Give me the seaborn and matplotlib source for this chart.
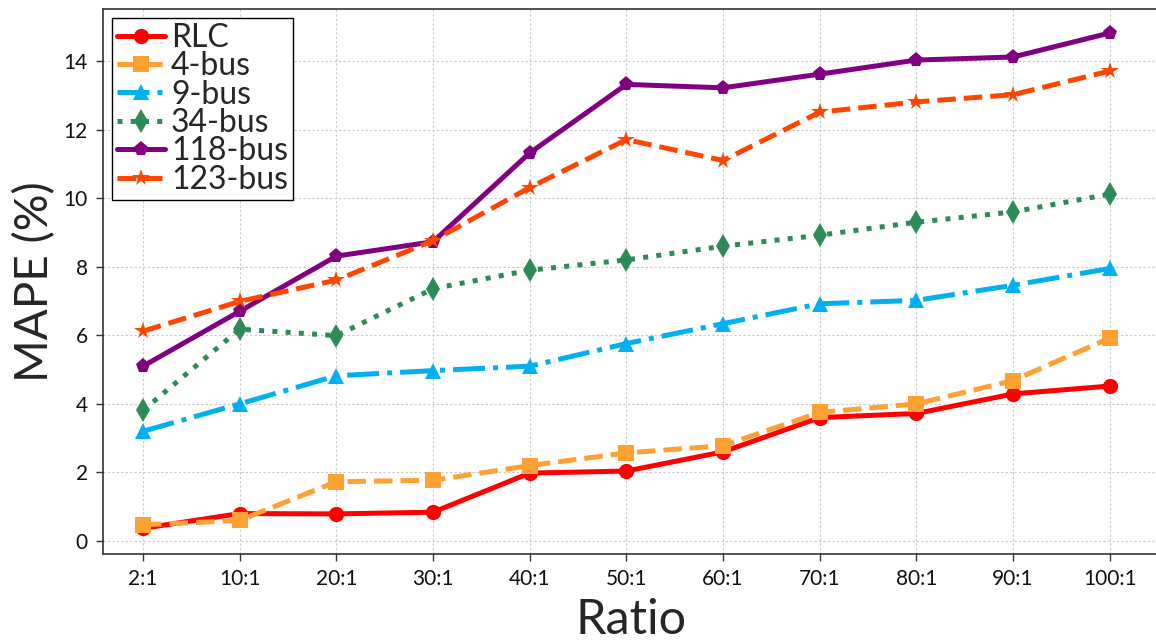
import numpy as np
import pandas as pd
import matplotlib
matplotlib.use("Agg")
import matplotlib.pyplot as plt
import seaborn as sns

# MAPE (%) per network as the ratio grows
ratios = ["2:1", "10:1", "20:1", "30:1", "40:1", "50:1", "60:1", "70:1", "80:1", "90:1", "100:1"]
rlc = [0.37, 0.80, 0.79, 0.84, 1.98, 2.04, 2.60, 3.60, 3.72, 4.29, 4.52]
bus4 = [0.47, 0.60, 1.73, 1.77, 2.20, 2.57, 2.78, 3.75, 4.00, 4.68, 5.92]
bus9 = [3.20, 4.00, 4.82, 4.97, 5.10, 5.76, 6.34, 6.92, 7.02, 7.46, 7.95]
bus34 = [3.81, 6.18, 5.99, 7.36, 7.90, 8.20, 8.60, 8.92, 9.30, 9.60, 10.12]
bus118 = [5.10, 6.70, 8.31, 8.73, 11.32, 13.32, 13.22, 13.62, 14.03, 14.12, 14.82]
bus123 = [6.12, 6.99, 7.61, 8.76, 10.31, 11.71, 11.10, 12.51, 12.81, 13.02, 13.71]

names = ["RLC", "4-bus", "9-bus", "34-bus", "118-bus", "123-bus"]
values = [rlc, bus4, bus9, bus34, bus118, bus123]
colors = ["#FF0000", "#FFA033", "#00B0F0", "#2E8B57", "#800080", "#FF4500"]
markers = ["o", "s", "^", "d", "p", "*"]
dashes = ["", (3.7, 1.6), (6.4, 1.6, 1, 1.6), (1, 1.65), "", (3.7, 1.6)]
msizes = [11, 11, 11, 12, 11, 13]

sns.set_theme(style="ticks")
plt.rcParams["font.family"] = ["Lato", "DejaVu Sans"]

fig = plt.figure(figsize=(11.56, 6.44), dpi=100)
ax = fig.add_axes([103 / 1156, 90 / 644, 1057 / 1156, 545 / 644])

xpos = np.arange(len(ratios))
for name, vals, col, mk, ds, ms in zip(names, values, colors, markers, dashes, msizes):
    df = pd.DataFrame({"x": xpos, "y": vals})
    sns.lineplot(data=df, x="x", y="y", ax=ax, color=col, marker=mk,
                 markersize=ms, markeredgewidth=0, linewidth=3.6,
                 label=name)
    line = ax.lines[-1]
    if ds == "":
        line.set_linestyle("-")
    else:
        line.set_dashes(ds)

ax.set_xlim(-0.414, 10.52)
ax.set_ylim(-0.38, 15.52)
ax.set_xticks(xpos)
ax.set_xticklabels(ratios)
ax.set_yticks(np.arange(0, 15, 2))
ax.tick_params(axis="both", labelsize=15, length=5, width=1.0, color="#333333",
               labelcolor="#111111", pad=6)
ax.grid(True, color="#c8c8c8", linestyle=(0, (2, 2)), linewidth=0.8)
ax.set_axisbelow(True)
for sp in ax.spines.values():
    sp.set_color("#333333")
    sp.set_linewidth(1.2)

ax.set_xlabel("Ratio", fontsize=35, labelpad=6)
ax.set_ylabel("MAPE (%)", fontsize=33, labelpad=5)

leg = ax.legend(loc="upper left", fontsize=23, frameon=True, fancybox=False,
                framealpha=1.0, edgecolor="black", borderaxespad=0.28,
                handlelength=1.5, handletextpad=0.2, labelspacing=-0.05,
                borderpad=0.15)
leg.get_frame().set_linewidth(1.0)

fig.savefig("out.png", dpi=100)
